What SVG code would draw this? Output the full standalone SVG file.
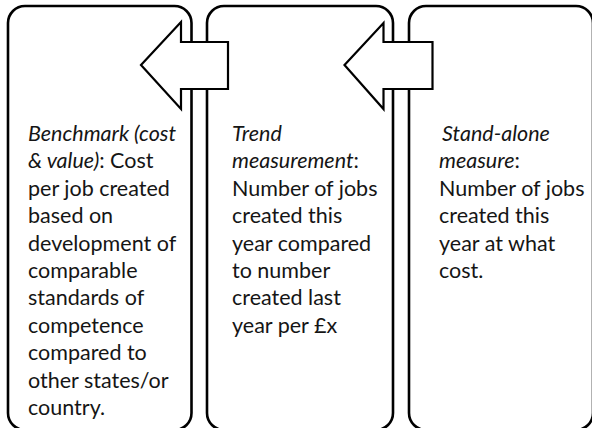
<svg xmlns="http://www.w3.org/2000/svg" width="592" height="428" viewBox="0 0 592 428">
<style>
.box{fill:#fff;stroke:#000;stroke-width:2.6}
.arr{fill:#fff;stroke:#000;stroke-width:2.2;stroke-linejoin:miter}
text{font-family:Lato,"Liberation Sans",sans-serif;font-size:21.5px;fill:#151515}
.i{font-style:italic}
</style>
<rect width="592" height="428" fill="#fff"/>
<g id="node-benchmark">
<rect class="box" x="8" y="6" width="183.5" height="424" rx="17" ry="17"/>
<text x="28" y="141"><tspan class="i">Benchmark (cost</tspan></text>
<text x="28" y="168.4"><tspan class="i">&amp; value)</tspan>: Cost</text>
<text x="28" y="195.8">per job created</text>
<text x="28" y="223.2">based on</text>
<text x="28" y="250.6">development of</text>
<text x="28" y="278">comparable</text>
<text x="28" y="305.4">standards of</text>
<text x="28" y="332.8">competence</text>
<text x="28" y="360.2">compared to</text>
<text x="28" y="387.6">other states/or</text>
<text x="28" y="415">country.</text>
</g>
<g id="node-trend">
<rect class="box" x="207" y="6" width="186" height="424" rx="17" ry="17"/>
<text x="232" y="141"><tspan class="i">Trend</tspan></text>
<text x="232" y="168.4"><tspan class="i">measurement</tspan>:</text>
<text x="232" y="195.8">Number of jobs</text>
<text x="232" y="223.2">created this</text>
<text x="232" y="250.6">year compared</text>
<text x="232" y="278">to number</text>
<text x="232" y="305.4">created last</text>
<text x="232" y="332.8">year per £x</text>
</g>
<g id="node-standalone">
<rect class="box" x="409" y="6" width="184" height="424" rx="17" ry="17"/>
<text x="442" y="141"><tspan class="i">Stand-alone</tspan></text>
<text x="439" y="168.4"><tspan class="i">measure</tspan>:</text>
<text x="439" y="195.8">Number of jobs</text>
<text x="439" y="223.2">created this</text>
<text x="439" y="250.6">year at what</text>
<text x="439" y="278">cost.</text>
</g>
<g id="connectors">
<polygon class="arr" points="141,65 181,22 181,42 228,42 228,89 181,89 181,109"/>
<polygon class="arr" points="344.5,65 383.5,23 383.5,42 432.5,42 432.5,89 383.5,89 383.5,109"/>
</g>
</svg>
